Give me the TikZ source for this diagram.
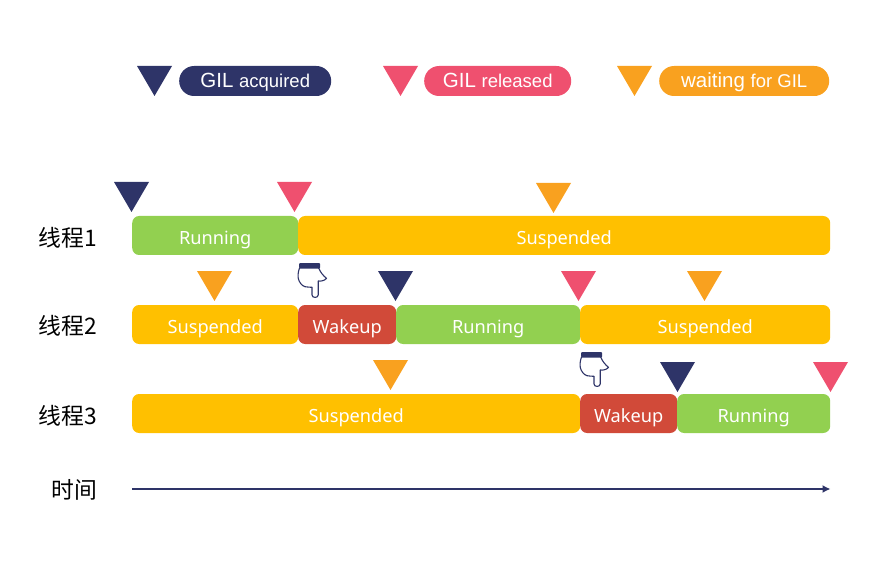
\documentclass[tikz,border=0pt]{standalone}
\usepackage{fontspec}
\usetikzlibrary{arrows.meta}
\setmainfont{Liberation Sans}
\newfontfamily\cjk{Noto Sans CJK SC}
\newfontfamily\barfont{Noto Sans}
\definecolor{gilnavy}{HTML}{2E3468}
\definecolor{gilred}{HTML}{EF506F}
\definecolor{gilorange}{HTML}{F9A11F}
\definecolor{rungreen}{HTML}{92D050}
\definecolor{suspyellow}{HTML}{FFC000}
\definecolor{wakered}{HTML}{D14A39}
\tikzset{
    barbox/.style={anchor=west, minimum height=39pt, rounded corners=7pt, inner sep=0pt, text=white,
        text height=17pt, text depth=0pt, font=\barfont\fontsize{18.2}{20}\selectfont},
    running/.style={barbox, fill=rungreen},
    suspended/.style={barbox, fill=suspyellow},
    wakeup/.style={barbox, fill=wakered},
    legendbox/.style={anchor=west, minimum height=30pt, rounded corners=14.9pt, inner sep=0pt, text=white,
        text height=16pt, text depth=2pt, font=\fontsize{20.5}{22}\selectfont},
    rowlabel/.style={inner sep=0pt, font=\cjk\fontsize{22.8}{26}\selectfont},
    pics/marker/.style={code={\fill[#1] (0,0) -- (35,0) -- (17.5,30) -- cycle;}},
    pics/hand/.style={code={
        \draw[gilnavy, line width=1.1pt, line join=round, fill=white]
            (0.5,5) .. controls (-1,9) and (-1.2,13) .. (-0.7,15.5)
            .. controls (0,19) and (3,23) .. (6,23.7)
            .. controls (8,24.3) and (11,24) .. (13,24.3) -- (13,32)
            .. controls (13,35.2) and (19.2,35.2) .. (19.2,32) -- (19.2,18)
            .. controls (22,18.5) and (26,17.5) .. (27.5,15.3)
            .. controls (24.5,13) and (21.5,9.5) .. (19.7,5);
        \fill[gilnavy, rounded corners=1pt] (0,0) rectangle (21,5.5);
    }}
}
\begin{document}
\begin{tikzpicture}[x=1pt, y=-1pt]
    \useasboundingbox (0,0) rectangle (880,561);

    % Leyenda
    \pic at (137,66) {marker=gilnavy};
    \node[legendbox, fill=gilnavy, minimum width=152pt] (acquired) at (179,81) {GIL {\fontsize{18.5}{20}\selectfont acquired}};
    \pic at (383,66) {marker=gilred};
    \node[legendbox, fill=gilred, minimum width=147pt] (released) at (424,81) {GIL {\fontsize{18.5}{20}\selectfont released}};
    \pic at (617,66) {marker=gilorange};
    \node[legendbox, fill=gilorange, minimum width=170pt] (waiting) at (659,81) {waiting {\fontsize{18.5}{20}\selectfont for GIL}};

    % Hilo 1
    \node[rowlabel] (threadA) at (68,238) {线程1};
    \node[running, minimum width=166pt] (runA) at (132,235.5) {Running};
    \node[suspended, minimum width=532pt] (suspA) at (298,235.5) {Suspended};
    \pic at (114,182) {marker=gilnavy};
    \pic at (277,182) {marker=gilred};
    \pic at (536,183) {marker=gilorange};

    % Hilo 2
    \node[rowlabel] (threadB) at (68,326) {线程2};
    \node[suspended, minimum width=166pt] (suspB) at (132,324.5) {Suspended};
    \node[wakeup, minimum width=98pt] (wakeB) at (298,324.5) {Wakeup};
    \node[running, minimum width=184pt] (runB) at (396,324.5) {Running};
    \node[suspended, minimum width=250pt] (suspC) at (580,324.5) {Suspended};
    \pic at (197,271) {marker=gilorange};
    \pic at (299,263) {hand};
    \pic at (378,271) {marker=gilnavy};
    \pic at (561,271) {marker=gilred};
    \pic at (687,271) {marker=gilorange};

    % Hilo 3
    \node[rowlabel] (threadC) at (68,416) {线程3};
    \node[suspended, minimum width=448pt] (suspD) at (132,413.5) {Suspended};
    \node[wakeup, minimum width=97pt] (wakeC) at (580,413.5) {Wakeup};
    \node[running, minimum width=153pt] (runC) at (677,413.5) {Running};
    \pic at (373,360) {marker=gilorange};
    \pic at (581,352) {hand};
    \pic at (660,362) {marker=gilnavy};
    \pic at (813,362) {marker=gilred};

    % Eje del tiempo
    \node[rowlabel] (timelabel) at (74.5,490) {时间};
    \coordinate (timestart) at (132,489);
    \coordinate (timeend) at (830.5,489);
    \draw[-{Latex[length=8pt,width=8pt]}, gilnavy, line width=1.5pt] (timestart) -- (timeend);
\end{tikzpicture}
\end{document}
